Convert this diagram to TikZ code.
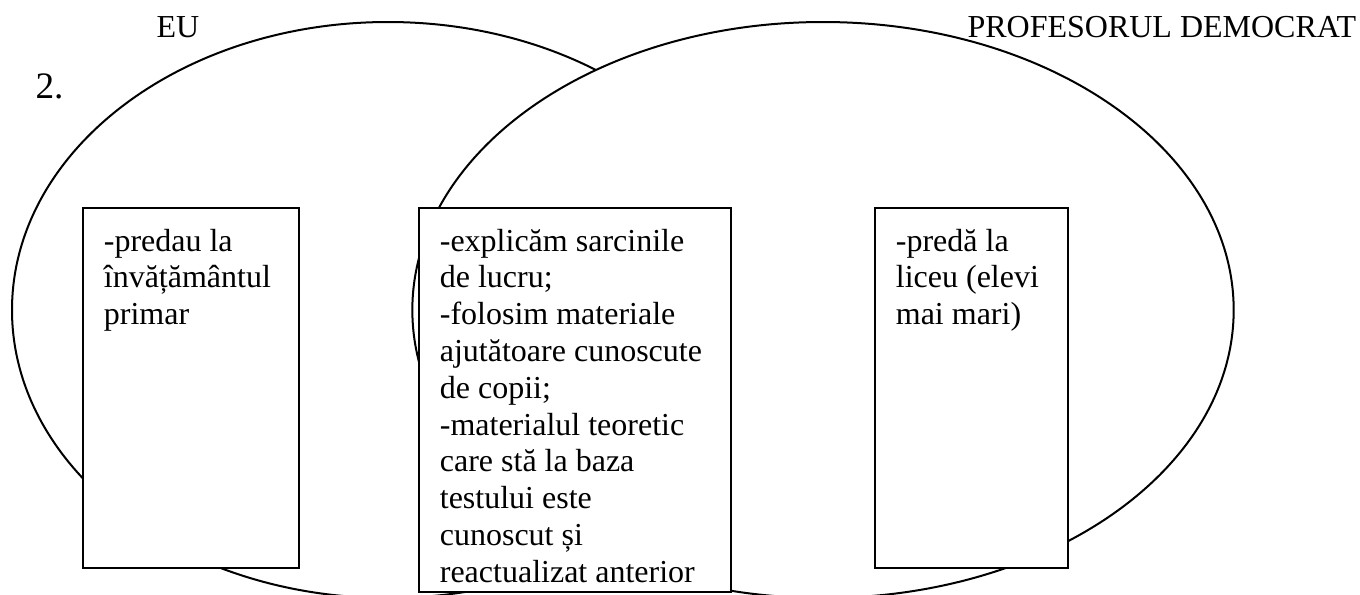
\documentclass[tikz,border=0pt]{standalone}
\usepackage{fontspec}
\setmainfont{Liberation Serif}
\usetikzlibrary{shapes.geometric,positioning}

\begin{document}
\begin{tikzpicture}[x=0.375pt,y=-0.375pt,
                      set/.style={ellipse,draw,line width=0.75pt,inner sep=0,minimum height=216pt},
                      cell/.style={draw,fill=white,line width=0.7pt,anchor=north west,inner sep=0},
                      words/.style={align=left,inner sep=0,font=\fontsize{12pt}{13.8pt}\selectfont}]
  \useasboundingbox (0,0) rectangle (1360,594);

  % the two sets, the second one covers the first
  \node[set,minimum width=282pt] (eu) at (388,310) {};
  \node[set,fill=white,minimum width=308pt] (prof) at (823,310) {};

  \node[words,anchor=base west] (tEu) at (156,37) {EU};
  \node[words,anchor=base west] (tProf) at (967,37) {PROFESORUL DEMOCRAT};
  \node[words,anchor=base west,font=\fontsize{14pt}{16pt}\selectfont] (nr) at (35,98) {2.};

  % boxes
  \node[cell,minimum width=81pt,minimum height=135pt] (cEu) at (82,207) {};
  \node[cell,minimum width=117pt,minimum height=144pt] (cBoth) at (418,207) {};
  \node[cell,minimum width=72.4pt,minimum height=135pt] (cProf) at (874,207) {};

  \node[words,below right=8pt and 8pt of cEu.north west] (wEu)
    {-predau la\\învățământul\\primar};
  \node[words,below right=8pt and 8pt of cBoth.north west] (wBoth)
    {-explicăm sarcinile\\de lucru;\\-folosim materiale\\ajutătoare cunoscute\\de copii;\\-materialul teoretic\\care stă la baza\\testului este\\cunoscut și\\reactualizat anterior};
  \node[words,below right=8pt and 8pt of cProf.north west] (wProf)
    {-predă la\\liceu (elevi\\mai mari)};
\end{tikzpicture}
\end{document}
